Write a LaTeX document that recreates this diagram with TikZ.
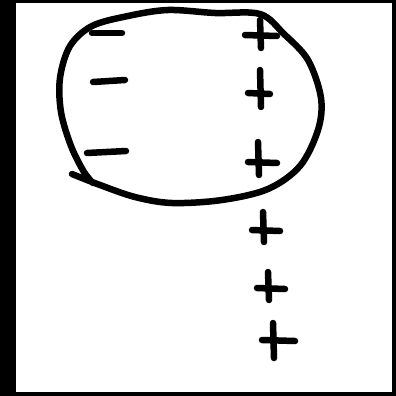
\documentclass[tikz,border=0pt]{standalone}
\usepackage{tikz}

\tikzset{
  ink/.style   ={line width=6.5pt, line cap=round, line join=round, black},
  paper/.style ={fill=white, draw=none},
}

\begin{document}
\begin{tikzpicture}[x=1pt, y=-1pt]
\useasboundingbox (0,0) rectangle (396,396);
%% frame
\fill[black] (0,0) rectangle (396,396);
\fill[paper] (16,3) rectangle (392,392);

%% blob
\draw[ink] plot[smooth, tension=0.55] coordinates {
  (72,174) (100,185) (135,197) (172,203) (222,200) (268,189)
  (300,166) (318,130) (321,98) (308,60) (284,34) (260,14)
  (215,13) (168,10) (128,16) (92,26) (70,46) (60,78)
  (61,112) (71,146) (84,172) (93,183)};

%% minus signs (left)
\foreach \xa/\ya/\xb/\yb in {92/33/122/33, 93/82/125/80, 87/153/126/151}
  \draw[ink] (\xa,\ya) -- (\xb,\yb);

%% plus signs (right)
\foreach \xa/\xb/\hy/\vx/\vt/\vb in {245/277/35/260/20/48,
                                    248/270/93/260/70/107,
                                    248/277/162/258/142/175,
                                    252/280/230/263/212/242,
                                    257/285/288/268/272/300,
                                    262/295/340/273/323/358}{
  \draw[ink] (\xa,\hy) -- (\xb,\hy+1);
  \draw[ink] (\vx,\vt) -- (\vx+1,\vb);
}
\end{tikzpicture}
\end{document}
